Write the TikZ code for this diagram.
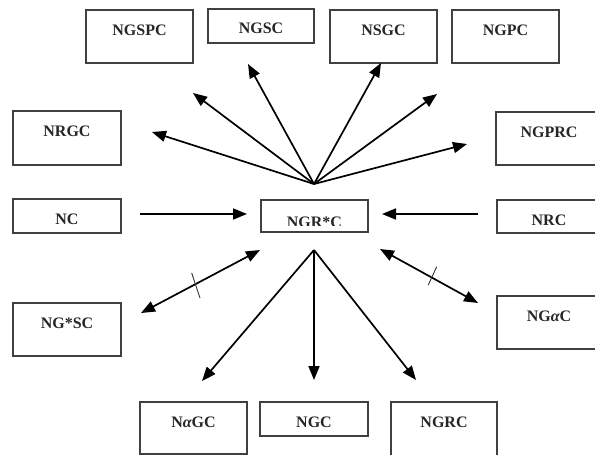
\documentclass[tikz,border=0pt]{standalone}
\usepackage{fontspec}
\setmainfont{Liberation Serif}
\usetikzlibrary{arrows.meta}
\tikzset{
  box/.style={draw=black!75, line width=1.2pt, rectangle, inner sep=0pt, outer sep=0pt, fill=none},
  lbl/.style={inner sep=0pt, font=\bfseries\fontsize{16}{18}\selectfont, text=black!85},
  arr/.style={line width=1.7pt, -{Triangle[length=14pt,width=11pt]}},
  darr/.style={line width=1.7pt, {Triangle[length=14pt,width=11pt]}-{Triangle[length=14pt,width=11pt]}},
  tick/.style={line width=0.9pt, draw=black!80}
}
\newcommand\mybx[6]{%
  \node[box, minimum width={#4-#2}, minimum height={#5-#3}] (#1) at ({(#2+#4)/2},{(#3+#5)/2}) {};
}
\begin{document}
\begin{tikzpicture}[x=1pt,y=-1pt]
\useasboundingbox[fill=white] (0,0) rectangle (595,455);
% boxes
\mybx{ngspc}{86}{10}{193}{63}{}
\mybx{ngsc}{208}{9}{314}{43}{}
\mybx{nsgc}{330}{10}{437}{63}{}
\mybx{ngpc}{452}{10}{559}{63}{}
\mybx{nrgc}{13}{111}{121}{165}{}
\mybx{ngprc}{496}{112}{602}{165}{}
\mybx{nc}{13}{199}{121}{233}{}
\mybx{ngrc0}{261}{200}{368}{232}{}
\mybx{nrc}{497}{200}{601}{233}{}
\mybx{ngssc}{13}{303}{121}{356}{}
\mybx{ngac}{497}{296}{601}{349}{}
\mybx{nagc}{140}{402}{247}{454}{}
\mybx{ngc}{260}{402}{368}{436}{}
\mybx{ngrc}{391}{402}{497}{460}{}
% labels
\node[lbl, anchor=base] (t1) at ([yshift=-25pt]ngspc.north) {NGSPC};
\node[lbl, anchor=base] (t2) at ([yshift=-25pt]ngsc.north) {NGSC};
\node[lbl, anchor=base] (t3) at ([yshift=-25pt]nsgc.north) {NSGC};
\node[lbl, anchor=base] (t4) at ([yshift=-25pt]ngpc.north) {NGPC};
\node[lbl, anchor=base] (t5) at ([yshift=-25pt]nrgc.north) {NRGC};
\node[lbl, anchor=base] (t6) at ([yshift=-25pt]ngprc.north) {NGPRC};
\node[lbl, anchor=base] (t7) at ([yshift=-25pt]nc.north) {NC};
\begin{scope}
\clip (255,195) rectangle (375,225.5);
\node[lbl, anchor=base] (t8) at ([yshift=-27pt]ngrc0.north) {NGR*C};
\end{scope}
\node[lbl, anchor=base] (t9) at ([yshift=-25pt]nrc.north) {NRC};
\node[lbl, anchor=base] (t10) at ([yshift=-25pt]ngssc.north) {NG*SC};
\node[lbl, anchor=base] (t11) at ([yshift=-25pt]ngac.north) {NG{\itshape α}C};
\node[lbl, anchor=base] (t12) at ([yshift=-25pt]nagc.north) {N{\itshape α}GC};
\node[lbl, anchor=base] (t13) at ([yshift=-25pt]ngc.north) {NGC};
\node[lbl, anchor=base] (t14) at ([yshift=-25pt]ngrc.north) {NGRC};
% coordinates
\coordinate (up) at (314,184);
\coordinate (lo) at (314,250);
\coordinate (a1) at (152,132);
\coordinate (a2) at (193,93);
\coordinate (a3) at (248,64);
\coordinate (a4) at (381,63);
\coordinate (a5) at (437,94);
\coordinate (a6) at (467,144);
\coordinate (h1s) at (140,214);
\coordinate (h1e) at (247,214);
\coordinate (h2s) at (478,214);
\coordinate (h2e) at (382,214);
\coordinate (b1) at (202,381);
\coordinate (b2) at (314,380);
\coordinate (b3) at (416,380);
\coordinate (d1s) at (260,250);
\coordinate (d1e) at (141,313);
\coordinate (d2s) at (380,249);
\coordinate (d2e) at (478,303);
\coordinate (k1s) at (191.7,273);
\coordinate (k1e) at (200,298);
\coordinate (k2s) at (436.7,266.7);
\coordinate (k2e) at (428.3,285);
% arrows
\foreach \t in {a1,a2,a3,a4,a5,a6} \draw[arr] (up) -- (\t);
\draw[arr] (h1s) -- (h1e);
\draw[arr] (h2s) -- (h2e);
\foreach \t in {b1,b2,b3} \draw[arr] (lo) -- (\t);
\draw[darr] (d1s) -- (d1e);
\draw[darr] (d2s) -- (d2e);
\draw[tick] (k1s) -- (k1e);
\draw[tick] (k2s) -- (k2e);
\end{tikzpicture}
\end{document}
